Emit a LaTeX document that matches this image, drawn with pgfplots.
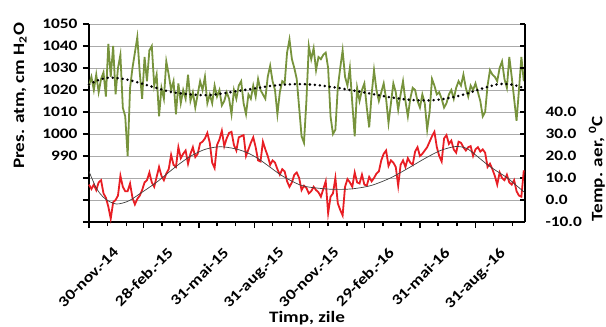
\documentclass[border=0pt]{standalone}
\usepackage{pgfplots}
\pgfplotsset{compat=1.18}
\usepackage{fontspec}
\setmainfont{Carlito}[FakeStretch=1.2]
\definecolor{pgreen}{RGB}{119,147,60}
\definecolor{tred}{RGB}{232,30,36}
\definecolor{gridg}{RGB}{170,170,170}
\begin{document}
\begin{tikzpicture}
\begin{axis}[name=main, scale only axis, width=436bp, height=198bp,
  xmin=0, xmax=722, ymin=960, ymax=1050,
  axis x line*=bottom, axis y line*=left,
  axis line style={line width=2.2bp, black},
  xtick={0,90,182,274,365,456,548,640},
  xticklabels={30-nov.-14,28-feb.-15,31-mai-15,31-aug.-15,30-nov.-15,29-feb.-16,31-mai-16,31-aug.-16},
  minor xtick={31,62,121,151,212,243,304,335,396,427,487,517,578,609,670,701},
  ytick={960,970,...,1050},
  yticklabels={,,,990,1000,1010,1020,1030,1040,1050},
  ymajorgrids, major grid style={gridg, line width=0.8bp},
  tick align=outside, major tick length=6bp, minor tick length=4bp,
  every tick/.style={black, line width=1.5bp},
  xticklabel style={rotate=45, anchor=north east, font=\fontsize{15}{17}\selectfont\bfseries, yshift=-26bp, xshift=7bp},
  yticklabel style={font=\fontsize{14.5}{16}\selectfont\bfseries, xshift=-2bp},
  clip=false,
]
\addplot[pgreen, line width=1.8bp] coordinates {
(0,1022)(4,1026)(8,1020)(12,1027)(16,1019)(20,1025)(24,1028)(28,1017)(32,1041)(36,1026)
(40,1040)(44,1018)(48,1030)(52,1036)(56,1012)(60,1008)(64,990)(68,1021)(72,1030)(76,1037)
(80,1044)(84,1028)(88,1016)(92,1035)(96,1024)(100,1038)(104,1040)(108,1022)(112,1027)(116,1008)
(120,1021)(124,1016)(128,1033)(132,1027)(136,1020)(140,1024)(144,1009)(148,1023)(152,1014)(156,1020)
(160,1016)(164,1027)(168,1015)(172,1019)(176,1012)(180,1018)(184,1024)(188,1020)(192,1026)(196,1014)
(200,1018)(204,1014)(208,1022)(212,1017)(216,1020)(220,1013)(224,1015)(228,1019)(232,1016)(236,1009)
(240,1020)(244,1016)(248,1022)(252,1024)(256,1014)(260,1009)(264,1018)(268,1016)(272,1022)(276,1017)
(280,1025)(284,1020)(288,1018)(292,1016)(296,1026)(300,1031)(304,1024)(308,1020)(312,1009)(316,1019)
(320,1024)(324,1023)(328,1037)(332,1043)(336,1034)(340,1030)(344,1025)(348,1012)(352,999)(356,996)
(360,1015)(364,1040)(368,1034)(372,1039)(376,1029)(380,1035)(384,1034)(388,1036)(392,1037)(396,1030)
(400,1008)(404,1000)(408,1002)(412,1021)(416,1030)(420,1038)(424,1026)(428,1022)(432,1030)(436,1014)
(440,999)(444,1021)(448,1015)(452,1020)(456,1023)(460,1012)(464,1003)(468,1018)(472,1029)(476,1020)
(480,1015)(484,1019)(488,1023)(492,1016)(496,1005)(500,1014)(504,1023)(508,1019)(512,1011)(516,1018)
(520,1024)(524,1015)(528,1008)(532,1016)(536,1021)(540,1020)(544,1015)(548,1012)(552,1018)(556,1014)
(560,1002)(564,1010)(568,1025)(572,1022)(576,1018)(580,1019)(584,1016)(588,1012)(592,1014)(596,1018)
(600,1020)(604,1016)(608,1021)(612,1024)(616,1022)(620,1027)(624,1021)(628,1017)(632,1022)(636,1020)
(640,1023)(644,1019)(648,1015)(652,1008)(656,1010)(660,1022)(664,1029)(668,1027)(672,1026)(676,1024)
(680,1030)(684,1033)(688,1025)(692,1021)(696,1035)(700,1026)(704,1016)(708,1006)(712,1020)(716,1035)
(720,1024)};
\addplot[black, line width=2.8bp, line cap=round, dash pattern=on 0bp off 5bp, smooth] coordinates {
(0,1022.5)(16,1024.6)(33,1025.6)(50,1025.3)(68,1024.4)(84,1023.2)(101,1021.8)(118,1020.4)(134,1019.2)
(151,1018.5)(168,1018)(185,1017.7)(201,1017.7)(218,1018.3)(234,1019)(250,1019.7)(267,1020.4)(283,1021.1)
(300,1021.8)(316,1022.3)(333,1022.6)(350,1022.7)(366,1022.5)(383,1022.1)(399,1021.5)(414,1020.9)(428,1020.2)
(450,1019.2)(471,1018.1)(494,1016.9)(516,1016)(533,1015.5)(549,1015.3)(566,1015.3)(582,1015.7)(604,1016.8)
(625,1018.3)(650,1020.6)(675,1022.5)(690,1022.8)(703,1022.3)(712,1021.6)(721,1020.8)};
\node[rotate=90, font=\fontsize{16}{18}\selectfont\bfseries] at (rel axis cs:-0.158,0.637) {Pres. atm, cm H\textsubscript{2}O};
\node[font=\fontsize{16}{18}\selectfont\bfseries] at (rel axis cs:0.5,-0.487) {Timp, zile};
\end{axis}
\begin{axis}[scale only axis, width=436bp, height=198bp,
  xmin=0, xmax=722, ymin=-10, ymax=80,
  hide x axis, axis y line*=right,
  axis line style={line width=2.2bp, black},
  ytick={-10,0,...,80},
  yticklabels={-10.0,0.0,10.0,20.0,30.0,40.0,,,,},
  tick align=inside, major tick length=5bp,
  every tick/.style={black, line width=1.5bp},
  yticklabel style={font=\fontsize{14.5}{16}\selectfont\bfseries, xshift=17bp},
  clip=false,
]
\addplot[tred, line width=1.8bp] coordinates {
(0,7)(4,5)(8,7)(12,4.5)(16,8)(20,9)(24,3)(28,1)(32,-3)(36,-8.5)
(40,-1)(44,0)(48,2)(52,11)(56,6)(60,4)(64,4)(68,7.5)(72,1)(76,-2)
(80,0.5)(84,2)(88,4.5)(92,8)(96,9)(100,12.5)(104,8)(108,6)(112,10.5)(116,15)
(120,11)(124,9)(128,12)(132,14)(136,20.5)(140,16)(144,15)(148,24)(152,19)(156,21)
(160,22.5)(164,16.5)(168,21)(172,24)(176,19.5)(180,21)(184,25.8)(188,26.5)(192,28)(196,30.5)
(200,26)(204,17)(208,14.5)(212,25)(216,27.5)(220,31.5)(224,24.5)(228,28)(232,30.5)(236,31)
(240,25)(244,22.5)(248,28.5)(252,29)(256,29.5)(260,20)(264,23)(268,26)(272,28.5)(276,24)
(280,18)(284,17.5)(288,26.5)(292,23)(296,20)(300,16)(304,18)(308,17)(312,14)(316,11.5)
(320,14)(324,13)(328,8.5)(332,6)(336,8)(340,11.5)(344,12.5)(348,10)(352,4.5)(356,6.5)
(360,5.5)(364,3)(368,4)(372,6)(376,4.5)(380,3.5)(384,1.5)(388,5)(392,8.5)(396,-6)
(400,1.5)(404,3)(408,10)(412,-1.5)(416,-4.5)(420,-7)(424,6)(428,9.5)(432,8)(436,6)
(440,12.5)(444,8)(448,7.5)(452,11.5)(456,7)(460,6.5)(464,10.5)(468,8.5)(472,10)(476,12)
(480,13)(484,18)(488,21)(492,22.5)(496,15.5)(500,18)(504,17)(508,15)(512,6.5)(516,16)
(520,18)(524,15)(528,19)(532,17)(536,16)(540,22)(544,24)(548,20)(552,21)(556,22.5)
(560,24)(564,26.5)(568,29)(572,31)(576,24)(580,20)(584,17.5)(588,28)(592,29.5)(596,25.5)
(600,27)(604,23)(608,21.5)(612,26.5)(616,26)(620,24)(624,22.5)(628,24)(632,24.5)(636,20)
(640,23)(644,24)(648,22)(652,23)(656,21.5)(660,15)(664,16.5)(668,14)(672,11)(676,7)
(680,12.5)(684,10)(688,9)(692,11.5)(696,8)(700,7)(704,9)(708,4)(712,2)(716,1.5)
(720,13.5)};
\addplot[black!75, line width=0.7bp, smooth] coordinates {
(0,13)(13,5)(27,0.5)(45,-1.8)(65,-0.5)(85,3)(113,8.3)(143,15)(167,19.7)(192,23)(217,24.2)
(242,23.3)(262,21.5)(279,19)(295,15.9)(317,11.5)(333,9)(350,6.8)(366,5.8)(400,4.9)(433,5)
(466,6.5)(499,10)(532,15)(557,19)(582,22.5)(607,24.3)(625,23.5)(640,20.5)(660,16)(676,13)
(693,10)(706,7)(721,3.5)};
\node[rotate=90, font=\fontsize{16}{18}\selectfont\bfseries] at (rel axis cs:1.165,0.27) {Temp. aer, \textsuperscript{0}C};
\end{axis}
\pgfresetboundingbox
\path (main.south west) ++(-89bp,-105bp) rectangle ++(606bp,327bp);
\end{tikzpicture}
\end{document}
